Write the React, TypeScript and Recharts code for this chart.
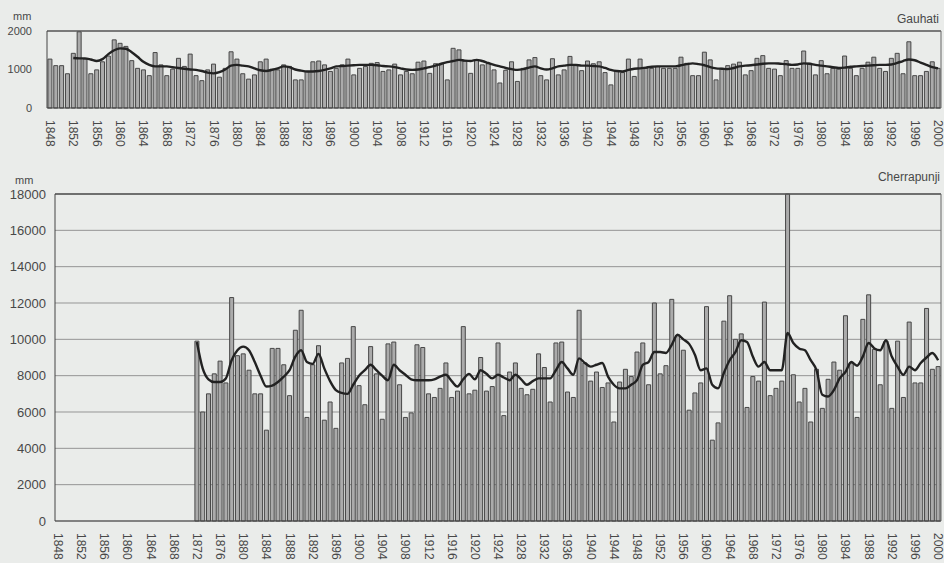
import { ComposedChart, Bar, Line, XAxis, YAxis, CartesianGrid, ReferenceLine } from 'recharts';

const START_YEAR = 1848;

// Gauhati annual rainfall, mm (1848-2000)
const gauhatiRain = [
  1270, 1100,
  1100, 890, 1420, 1980, 1270, 890, 990, 1200, 1350, 1770,
  1680, 1600, 1230, 1030, 990, 840, 1440, 1120, 840, 1010,
  1290, 1080, 1400, 840, 710, 990, 1140, 800, 1030, 1460,
  1270, 890, 750, 860, 1200, 1270, 1010, 990, 1120, 1080,
  730, 730, 950, 1200, 1220, 1120, 950, 1030, 1120, 1270,
  860, 1030, 1080, 1160, 1180, 950, 990, 1140, 860, 950,
  890, 1190, 1220, 900, 1150, 1160, 730, 1550, 1510, 1220,
  900, 1250, 1120, 1150, 990, 650, 980, 1200, 690, 1030,
  1250, 1310, 840, 730, 1280, 860, 990, 1340, 1100, 970,
  1220, 1150, 1200, 920, 600, 970, 920, 1270, 820, 1270,
  1030, 1030, 1080, 1030, 1030, 1030, 1320, 1160, 840, 840,
  1450, 1250, 730, 1030, 1100, 1140, 1190, 860, 970, 1290,
  1360, 1030, 1010, 840, 1230, 1030, 1030, 1480, 1160, 860,
  1230, 890, 1030, 1010, 1350, 1030, 840, 1030, 1190, 1320,
  1030, 950, 1290, 1420, 890, 1720, 840, 840, 950, 1200, 1030,
];

// Gauhati smoothed trend, mm
const gauhatiTrend = [
  null, null,
  null, null, 1300, 1290, 1290, 1260, 1220, 1270, 1400, 1500,
  1550, 1540, 1450, 1330, 1200, 1120, 1080, 1080, 1080, 1060,
  1040, 1020, 1000, 990, 960, 920, 900, 930, 1000, 1100,
  1120, 1100, 1080, 1030, 980, 960, 990, 1030, 1080, 1060,
  1000, 970, 950, 950, 960, 990, 1030, 1080, 1090, 1100,
  1110, 1120, 1120, 1120, 1110, 1090, 1080, 1060, 1030, 1000,
  990, 1000, 1030, 1060, 1100, 1150, 1190, 1220, 1250, 1230,
  1220, 1250, 1220, 1170, 1120, 1080, 1040, 1010, 990, 1010,
  1050, 1080, 1030, 1000, 1030, 1080, 1100, 1120, 1120, 1100,
  1100, 1090, 1080, 1040, 990, 960, 950, 990, 1020, 1030,
  1050, 1070, 1080, 1080, 1080, 1080, 1110, 1140, 1160, 1140,
  1110, 1060, 1030, 1020, 1010, 1040, 1080, 1100, 1110, 1130,
  1150, 1160, 1160, 1150, 1140, 1120, 1130, 1160, 1150, 1120,
  1100, 1080, 1060, 1040, 1050, 1070, 1080, 1090, 1100, 1110,
  1120, 1120, 1130, 1170, 1220, 1260, 1240, 1180, 1120, 1060, 1030,
];

// Cherrapunji annual rainfall, mm (no record before 1872)
const cherraRain = [
  null, null,
  null, null, null, null, null, null, null, null, null, null,
  null, null, null, null, null, null, null, null, null, null,
  null, null, 9900, 6000, 7000, 8100, 8800, 7600, 12300, 9100,
  9200, 8300, 7000, 7000, 5000, 9500, 9500, 8600, 6900, 10500,
  11600, 5700, 8600, 9650, 5550, 6550, 5100, 8700, 8950, 10700,
  7450, 6400, 9600, 8100, 5600, 9750, 9850, 7500, 5700, 5950,
  9700, 9550, 7000, 6800, 7300, 8700, 6800, 7150, 10700, 7000,
  7200, 9000, 7150, 7400, 9800, 5800, 8200, 8700, 7300, 6950,
  7250, 9200, 8450, 6550, 9800, 9850, 7100, 6800, 11600, 8700,
  7700, 8200, 7350, 7600, 5450, 7650, 8350, 7950, 9300, 9800,
  7500, 12000, 8100, 8550, 12200, 10200, 9400, 6100, 7050, 7600,
  11800, 4450, 5400, 11000, 12400, 10000, 10300, 6250, 7950, 7700,
  12050, 6900, 7300, 7700, 18000, 8050, 6550, 7300, 5450, 8350,
  6200, 7800, 8750, 8300, 11300, 8700, 5700, 11100, 12450, 9450,
  7500, 9900, 6200, 9900, 6800, 10950, 7600, 7600, 11700, 8350, 8500,
];

// Cherrapunji smoothed trend, mm
const cherraTrend = [
  null, null,
  null, null, null, null, null, null, null, null, null, null,
  null, null, null, null, null, null, null, null, null, null,
  null, null, 9850, 8400, 7800, 7650, 7650, 7850, 8850, 9400,
  9600, 9400, 8750, 8000, 7400, 7450, 7650, 7950, 8300, 9050,
  9400, 8750, 8650, 9200, 8400, 7700, 7200, 7050, 7000, 7500,
  8000, 8300, 8600, 8300, 8000, 7750, 8600, 8300, 8050, 7800,
  7750, 7750, 7750, 7800, 7950, 8050, 7700, 7400, 7800, 8100,
  7800, 8300, 8100, 7850, 8050, 7900, 7750, 8050, 7800, 7500,
  7700, 7850, 7850, 7850, 8300, 8750, 8400, 8050, 8950, 8700,
  8500, 8600, 8700, 7950, 7500, 7300, 7300, 7500, 7750, 8600,
  8750, 9300, 9300, 9250, 9700, 10250, 10000, 9750, 9150, 8300,
  8400, 7500, 7300, 8150, 8850, 9300, 9950, 9850, 9050, 8500,
  8750, 8300, 8300, 8300, 10350, 9800, 9500, 9400, 8850, 8300,
  6950, 6850, 7200, 7850, 8200, 8750, 8550, 9050, 9800, 9500,
  9400, 9950, 9050, 8500, 8050, 8500, 8300, 8700, 9000, 9250, 8850,
];

const gauhatiTicks = [0, 1000, 2000];
const cherraTicks = [0, 2000, 4000, 6000, 8000, 10000, 12000, 14000, 16000, 18000];

const gauhatiData = gauhatiRain.map((v, i) => ({ year: START_YEAR + i, rain: v, trend: gauhatiTrend[i] }));
const cherraData = cherraRain.map((v, i) => ({ year: START_YEAR + i, rain: v, trend: cherraTrend[i] }));

const FONT = '"Liberation Sans", Arial, sans-serif';
const TEXT = '#484848';
const BAR_FILL = '#ababab';
const BAR_EDGE = '#474747';
const LINE = '#222';

const YearTick = ({ x, y, payload }: any) => (
  <text
    x={0}
    y={0}
    transform={`translate(${x},${y + 4}) rotate(90)`}
    textAnchor="start"
    dominantBaseline="central"
    fontSize={12}
    fontFamily={FONT}
    fill={TEXT}
  >
    {payload.value}
  </text>
);

const label = (text: string, style: any) => (
  <div style={{ position: 'absolute', fontFamily: FONT, color: TEXT, lineHeight: 1, ...style }}>{text}</div>
);

export default function App() {
  return (
    <div style={{ position: 'absolute', left: 0, top: 0, width: 944, height: 563, background: '#eaecea', overflow: 'hidden' }}>
      {label('mm', { left: 13, top: 11, fontSize: 11 })}
      {label('Gauhati', { right: 5, top: 13, fontSize: 12 })}
      <div style={{ position: 'absolute', left: 0, top: 0 }}>
        <ComposedChart width={944} height={165} data={gauhatiData} margin={{ top: 31, right: 2, left: 7, bottom: 0 }} barCategoryGap="16%">
          <ReferenceLine y={2000} stroke="#555" strokeWidth={1.5} />
          <XAxis dataKey="year" interval={3} tickLine={false} height={57} tick={<YearTick />} stroke="#444" />
          <YAxis domain={[0, 2000]} ticks={gauhatiTicks} width={40} tickLine={false} tickMargin={9} stroke="#444" tick={{ fontSize: 11, fill: TEXT, fontFamily: FONT }} />
          <YAxis yAxisId="r" orientation="right" width={1} tick={false} tickLine={false} stroke="#666" />
          <Bar dataKey="rain" fill={BAR_FILL} stroke={BAR_EDGE} strokeWidth={1} isAnimationActive={false} />
          <Line dataKey="trend" type="monotone" stroke={LINE} strokeWidth={2.4} dot={false} isAnimationActive={false} />
        </ComposedChart>
      </div>

      {label('mm', { left: 15, top: 175, fontSize: 11 })}
      {label('Cherrapunji', { right: 4, top: 171, fontSize: 12 })}
      <div style={{ position: 'absolute', left: 0, top: 170 }}>
        <ComposedChart width={944} height={393} data={cherraData} margin={{ top: 24, right: 2, left: 0, bottom: 0 }} barCategoryGap="16%">
          <CartesianGrid vertical={false} stroke="#959595" />
          <ReferenceLine y={18000} stroke="#555" strokeWidth={1.5} />
          <XAxis dataKey="year" interval={3} tickLine={false} height={42} tick={<YearTick />} stroke="#444" />
          <YAxis domain={[0, 18000]} ticks={cherraTicks} width={55} tickLine={false} tickMargin={3} stroke="#444" tick={{ fontSize: 13, fill: TEXT, fontFamily: FONT }} />
          <YAxis yAxisId="r" orientation="right" width={1} tick={false} tickLine={false} stroke="#666" />
          <Bar dataKey="rain" fill={BAR_FILL} stroke={BAR_EDGE} strokeWidth={1} isAnimationActive={false} />
          <Line dataKey="trend" type="monotone" stroke={LINE} strokeWidth={2.4} dot={false} isAnimationActive={false} />
        </ComposedChart>
      </div>
    </div>
  );
}
